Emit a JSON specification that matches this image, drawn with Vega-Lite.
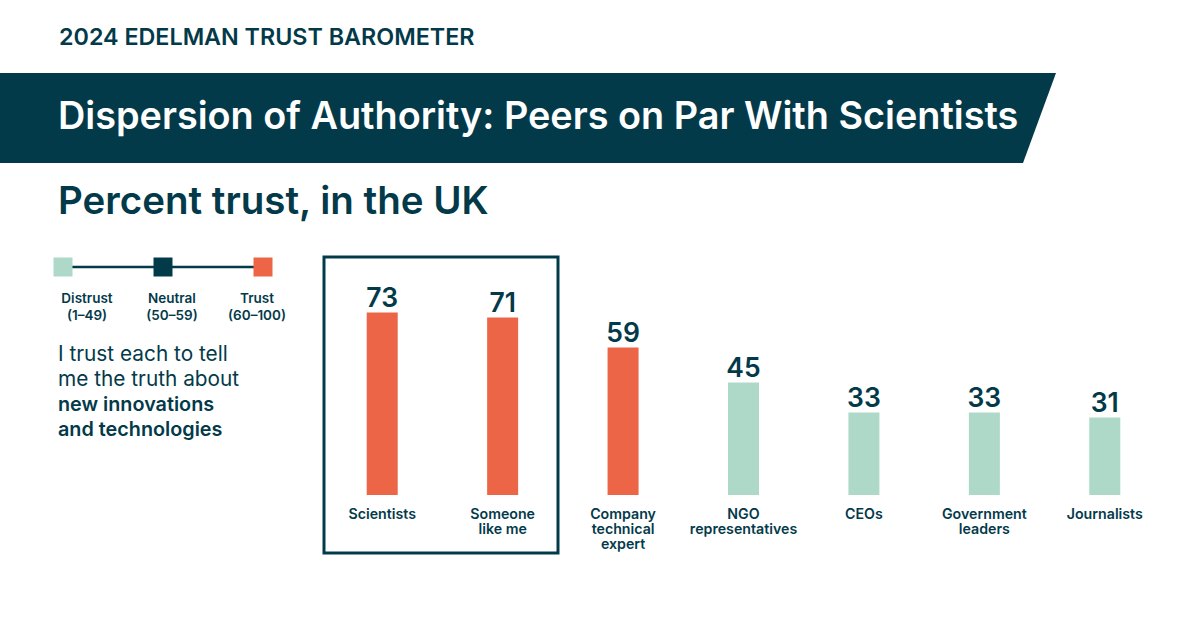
{
  "$schema": "https://vega.github.io/schema/vega-lite/v6.json",
  "width": 1200,
  "height": 630,
  "autosize": "none",
  "padding": 0,
  "background": "white",
  "config": {
    "view": {"stroke": null},
    "font": "Inter",
    "text": {"font": "Inter", "color": "#033a4a"}
  },
  "title": {
    "text": "Dispersion of Authority: Peers on Par With Scientists",
    "subtitle": "Percent trust, in the UK",
    "anchor": "start",
    "frame": "group",
    "orient": "top",
    "baseline": "alphabetic",
    "offset": -251,
    "dx": 58,
    "zindex": 1,
    "font": "Inter",
    "fontSize": 37.8,
    "fontWeight": 600,
    "color": "white",
    "subtitleFont": "Inter",
    "subtitleFontSize": 38.5,
    "subtitleFontWeight": 600,
    "subtitleColor": "#033a4a",
    "subtitlePadding": 47
  },
  "datasets": {
    "trust": [
      {"group": "Scientists", "label": "Scientists", "trust": 73},
      {"group": "Someone like me", "label": "Someone|like me", "trust": 71},
      {"group": "Company technical expert", "label": "Company|technical|expert", "trust": 59},
      {"group": "NGO representatives", "label": "NGO|representatives", "trust": 45},
      {"group": "CEOs", "label": "CEOs", "trust": 33},
      {"group": "Government leaders", "label": "Government|leaders", "trust": 33},
      {"group": "Journalists", "label": "Journalists", "trust": 31}
    ],
    "key": [
      {"band": "Distrust", "range": "Distrust|(1–49)"},
      {"band": "Neutral", "range": "Neutral|(50–59)"},
      {"band": "Trust", "range": "Trust|(60–100)"}
    ],
    "bannerEdge": [{"edge": 0}, {"edge": 1}]
  },
  "layer": [
    {
      "data": {"name": "bannerEdge"},
      "mark": {"type": "area", "orient": "horizontal", "color": "#033a4a"},
      "encoding": {
        "y": {"field": "edge", "type": "quantitative", "axis": null, "scale": {"domain": [0, 1], "range": [73, 163], "zero": false, "nice": false}},
        "x": {"field": "edge", "type": "quantitative", "axis": null, "scale": {"domain": [0, 1], "range": [1056, 1023], "zero": false, "nice": false}},
        "x2": {"datum": 32}
      }
    },
    {
      "layer": [
        {
          "data": {"values": [{"text": "2024 EDELMAN TRUST BAROMETER"}]},
          "mark": {"type": "text", "align": "left", "baseline": "alphabetic", "fontSize": 23.3, "fontWeight": 600},
          "encoding": {"x": {"datum": 59}, "y": {"datum": 45}, "text": {"field": "text"}}
        },
        {
          "data": {"values": [{"text": "I trust each to tell|me the truth about"}]},
          "mark": {"type": "text", "align": "left", "baseline": "alphabetic", "fontSize": 20.8, "lineHeight": 25, "lineBreak": "|"},
          "encoding": {"x": {"datum": 58}, "y": {"datum": 361}, "text": {"field": "text"}}
        },
        {
          "data": {"values": [{"text": "new innovations|and technologies"}]},
          "mark": {"type": "text", "align": "left", "baseline": "alphabetic", "fontSize": 19.8, "fontWeight": 600, "lineHeight": 25, "lineBreak": "|"},
          "encoding": {"x": {"datum": 58}, "y": {"datum": 411}, "text": {"field": "text"}}
        },
        {
          "data": {"values": [{"highlight": "Scientists and Someone like me"}]},
          "mark": {"type": "rect", "fill": null, "stroke": "#033a4a", "strokeWidth": 3},
          "encoding": {"x": {"datum": 324}, "x2": {"datum": 558}, "y": {"datum": 257}, "y2": {"datum": 553}}
        }
      ],
      "encoding": {
        "x": {"type": "quantitative", "axis": null, "scale": {"domain": [0, 1200], "range": [0, 1200], "nice": false}},
        "y": {"type": "quantitative", "axis": null, "scale": {"domain": [0, 630], "range": [0, 630], "nice": false}}
      }
    },
    {
      "data": {"name": "key"},
      "layer": [
        {
          "mark": {"type": "line", "color": "#033a4a", "strokeWidth": 2.5},
          "encoding": {"y": {"datum": 0}}
        },
        {
          "mark": {"type": "square", "size": 361, "opacity": 1, "filled": true},
          "encoding": {
            "y": {"datum": 0},
            "color": {"field": "band", "type": "nominal", "legend": null, "scale": {"domain": ["Distrust", "Neutral", "Trust"], "range": ["#aed9c9", "#033a4a", "#ec6547"]}}
          }
        }
      ],
      "encoding": {
        "x": {"field": "band", "type": "nominal", "axis": null, "sort": null, "scale": {"type": "point", "padding": 0, "domain": ["Distrust", "Neutral", "Trust"], "range": [63, 263]}},
        "y": {"type": "quantitative", "axis": null, "scale": {"domain": [0, 1], "range": [267, 266]}}
      }
    },
    {
      "data": {"name": "key"},
      "mark": {"type": "text", "baseline": "alphabetic", "fontSize": 13.5, "fontWeight": 600, "lineHeight": 17, "lineBreak": "|"},
      "encoding": {
        "x": {"field": "band", "type": "nominal", "axis": null, "sort": null, "scale": {"type": "point", "padding": 0, "domain": ["Distrust", "Neutral", "Trust"], "range": [87, 257]}},
        "y": {"datum": 0, "type": "quantitative", "axis": null, "scale": {"domain": [0, 1], "range": [303, 302]}},
        "text": {"field": "range"}
      }
    },
    {
      "data": {"name": "trust"},
      "layer": [
        {
          "mark": {"type": "bar", "size": 31},
          "encoding": {
            "y": {"field": "trust", "type": "quantitative"},
            "color": {"field": "trust", "type": "quantitative", "legend": null, "scale": {"type": "threshold", "domain": [50, 59], "range": ["#aed9c9", "#033a4a", "#ec6547"]}}
          }
        },
        {
          "mark": {"type": "text", "baseline": "alphabetic", "dy": -6, "fontSize": 26.5, "fontWeight": 600},
          "encoding": {
            "y": {"field": "trust", "type": "quantitative"},
            "text": {"field": "trust", "type": "quantitative"}
          }
        },
        {
          "mark": {"type": "text", "baseline": "alphabetic", "dy": 24, "fontSize": 14.2, "fontWeight": 600, "lineHeight": 15, "lineBreak": "|"},
          "encoding": {
            "y": {"datum": 0},
            "text": {"field": "label"}
          }
        }
      ],
      "encoding": {
        "x": {"field": "group", "type": "nominal", "axis": null, "sort": null, "scale": {"type": "band", "range": [322, 1165]}},
        "y": {"type": "quantitative", "axis": null, "scale": {"domain": [0, 100], "range": [495, 245], "nice": false}}
      }
    }
  ],
  "resolve": {"scale": {"x": "independent", "y": "independent", "color": "independent"}}
}
